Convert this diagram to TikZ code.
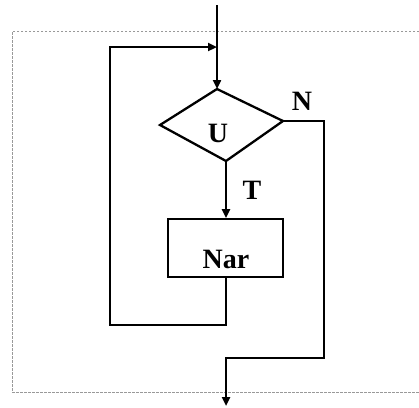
\documentclass[tikz,border=0pt]{standalone}
\usepackage{fontspec}
\setmainfont{Liberation Serif}
\usetikzlibrary{arrows.meta}
\begin{document}
\begin{tikzpicture}[x=1pt,y=-1pt,
  flow/.style={line width=2.3pt,draw=black},
  arr/.style={flow,-{Triangle[length=9pt,width=8pt]}},
  lbl/.style={font=\bfseries\fontsize{28}{30}\selectfont,inner sep=0pt},
  frame/.style={draw=gray!80,line width=0.8pt,dash pattern=on 2.5pt off 1.5pt}]
\useasboundingbox (0,0) rectangle (419,407);
% dashed frame
\draw[frame] (419,31) -- (12,31) -- (12,392) -- (419,392);
% diamond
\coordinate (dtop) at (217,89);
\coordinate (dright) at (283,121);
\coordinate (dbot) at (226,161);
\coordinate (dleft) at (160,125);
\draw[flow,line join=miter] (dtop) -- (dright) -- (dbot) -- (dleft) -- cycle;
\node[lbl] (u) at (218,133) {U};
% box
\node[draw,line width=1.8pt,minimum width=115pt,minimum height=58pt,inner sep=0pt] (box) at (225.5,248) {};
\node[lbl] (nar) at (226,259) {Nar};
% labels
\node[lbl] (n) at (302,101) {N};
\node[lbl] (t) at (252,190) {T};
% coordinates
\coordinate (in) at (217,5);
\coordinate (join) at (217,47);
\coordinate (lt) at (110,47);
\coordinate (lb) at (110,325);
\coordinate (bb) at (226,325);
\coordinate (nr) at (324,121);
\coordinate (nb) at (324,358);
\coordinate (ob) at (226,358);
\coordinate (out) at (226,406);
% connectors
\draw[arr] (in) -- (dtop);
\draw[arr] (box.south -| bb) -- (bb) -- (lb) -- (lt) -- (join);
\draw[arr] (dbot) -- (box.north -| dbot);
\draw[arr] (dright) -- (nr) -- (nb) -- (ob) -- (out);
\end{tikzpicture}
\end{document}
